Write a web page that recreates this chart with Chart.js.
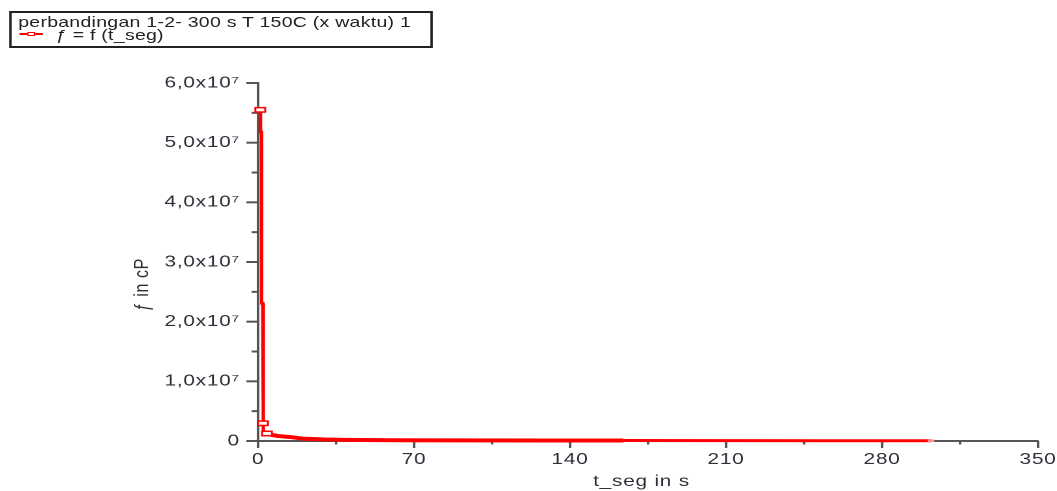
<!DOCTYPE html>
<html>
<head>
<meta charset="utf-8">
<script src="https://cdn.jsdelivr.net/npm/chart.js@4.4.0/dist/chart.umd.min.js"></script>
<style>
  html, body { margin: 0; padding: 0; background: #fff; overflow: hidden; }
  /* the reference is stretched horizontally, so the whole chart is drawn narrow and scaled */
  #wrap { position: relative; width: 813px; height: 491px; transform: scaleX(1.3); transform-origin: 0 0; }
  #legend {
    position: absolute; left: 7px; top: 11px; width: 322px; height: 33px;
    border: 2px solid #222; font: 15px "Liberation Sans", Arial, sans-serif; color: #222; letter-spacing: 0.2px;
  }
  #legend .row { position: absolute; line-height: 16px; white-space: nowrap; }
  #legend .sample { position: absolute; left: 6px; top: 19.5px; width: 18px; height: 2px; background: #ff0000; }
  #legend .mark {
    position: absolute; left: 12px; top: 18.5px; width: 6px; height: 4px; box-sizing: border-box;
    border: 1.3px solid #ff0000; background: #fff;
  }
</style>
</head>
<body>
<div id="wrap">
  <canvas id="chart"></canvas>
  <div id="legend">
    <div class="row" style="left:5px; top:1px;">perbandingan 1-2- 300 s T 150C (x waktu) 1</div>
    <div class="sample"></div>
    <div class="mark"></div>
    <div class="row" style="left:34px; top:14px;">ƒ = f (t_seg)</div>
  </div>
</div>
<script>
// viscosity curve
const tSeg = [1.0, 1.1, 1.5, 1.6, 2.1, 2.2, 2.4, 2.5, 4.0, 6.3, 9, 15, 20, 30, 40, 60, 90, 130, 164, 200, 250, 302];
const fCp = [55.5e6, 51.8e6, 51.8e6, 23.1e6, 23.1e6, 2.97e6, 2.97e6, 1.5e6, 1.26e6, 1.0e6, 0.84e6, 0.64e6,
  0.4e6, 0.25e6, 0.18e6, 0.12e6, 0.1e6, 0.09e6, 0.08e6, 0.06e6, 0.05e6, 0.05e6];
const markerIdx = [0, 5, 8];
const endIdx = tSeg.length - 1;

const xMax = 350, xStep = 35, xLabelStep = 70;
const yMax = 6e7, yStep = 5e6, yLabelStep = 1e7;

const FONT = '"Liberation Sans", Arial, sans-serif';
const AXIS = '#555';
const TEXT = '#2e2e38';

const fmtY = (v) => (v === 0 ? '0' : (v / 1e7).toFixed(1).replace('.', ',') + 'x10\u2077');

const axisTicks = {
  id: 'axisTicks',
  beforeDraw(chart) {
    chart.ctx.letterSpacing = '0.6px';
  },
  beforeDatasetsDraw(chart) {
    const { ctx, chartArea, scales: { x, y } } = chart;
    ctx.save();
    ctx.strokeStyle = AXIS;
    ctx.lineWidth = 2;
    x.ticks.forEach((t) => {
      const px = x.getPixelForValue(t.value);
      const len = t.value % xLabelStep === 0 ? 7 : 3.5;
      ctx.beginPath();
      ctx.moveTo(px, chartArea.bottom);
      ctx.lineTo(px, chartArea.bottom + len);
      ctx.stroke();
    });
    y.ticks.forEach((t) => {
      const py = y.getPixelForValue(t.value);
      const len = t.value % yLabelStep === 0 ? 9 : 5;
      ctx.beginPath();
      ctx.moveTo(chartArea.left - len, py);
      ctx.lineTo(chartArea.left, py);
      ctx.stroke();
    });
    ctx.restore();
  },
  afterDatasetsDraw(chart) {
    const { ctx } = chart;
    const meta = chart.getDatasetMeta(0);
    ctx.save();
    ctx.fillStyle = '#fff';
    ctx.strokeStyle = '#ff0000';
    ctx.lineWidth = 1.5;
    markerIdx.forEach((i) => {
      const p = meta.data[i];
      ctx.fillRect(p.x - 3.8, p.y - 2.2, 7.6, 4.4);
      ctx.strokeRect(p.x - 3.8, p.y - 2.2, 7.6, 4.4);
    });
    // last point: faint marker inside the line
    const last = meta.data[endIdx];
    ctx.fillStyle = '#ff8c8c';
    ctx.fillRect(last.x - 2.5, last.y - 1.3, 5, 2.6);
    ctx.restore();
  },
};

new Chart(document.getElementById('chart'), {
  type: 'line',
  data: {
    datasets: [
      {
        data: tSeg.map((t, i) => ({ x: t, y: fCp[i] })),
        borderColor: '#ff0000',
        borderWidth: 3,
        pointRadius: 0,
        tension: 0,
        clip: false,
        segment: {
          borderWidth: (ctx) => {
            const t = ctx.p0.parsed.x;
            if (t < 2.5) return 2.6;
            if (t < 164) return 4;
            return 3;
          },
        },
      },
    ],
  },
  options: {
    responsive: true,
    maintainAspectRatio: false,
    animation: false,
    devicePixelRatio: 2,
    layout: { padding: { left: 0, top: 83, right: 14.5, bottom: 0 } },
    plugins: { legend: { display: false }, tooltip: { enabled: false } },
    scales: {
      x: {
        type: 'linear',
        min: 0,
        max: xMax,
        grid: { display: false, drawTicks: false },
        border: { display: true, color: AXIS, width: 2 },
        ticks: {
          stepSize: xStep,
          autoSkip: false,
          maxRotation: 0,
          padding: 9,
          color: TEXT,
          font: { family: FONT, size: 16 },
          callback: (v) => (v % xLabelStep === 0 ? String(v) : ''),
        },
        title: {
          display: true,
          text: 't_seg in s' + '\u00a0'.repeat(2),
          color: TEXT,
          font: { family: FONT, size: 16 },
          padding: 0,
        },
        afterFit: (s) => {
          s.height = 50;
          s.paddingLeft = 0;
          s.paddingRight = 0;
        },
      },
      y: {
        type: 'linear',
        min: 0,
        max: yMax,
        grid: { display: false, drawTicks: false },
        border: { display: true, color: AXIS, width: 2 },
        ticks: {
          stepSize: yStep,
          autoSkip: false,
          padding: 14,
          color: TEXT,
          font: { family: FONT, size: 16 },
          callback: (v) => (v % yLabelStep === 0 ? fmtY(v) : ''),
        },
        title: {
          display: true,
          text: 'ƒ in cP' + '\u00a0'.repeat(9),
          color: TEXT,
          font: { family: FONT, size: 16 },
          padding: { top: 100, bottom: 0 },
        },
        afterFit: (s) => {
          s.width = 198.5;
          s.paddingTop = 0;
          s.paddingBottom = 0;
        },
      },
    },
  },
  plugins: [axisTicks],
});
</script>
</body>
</html>
